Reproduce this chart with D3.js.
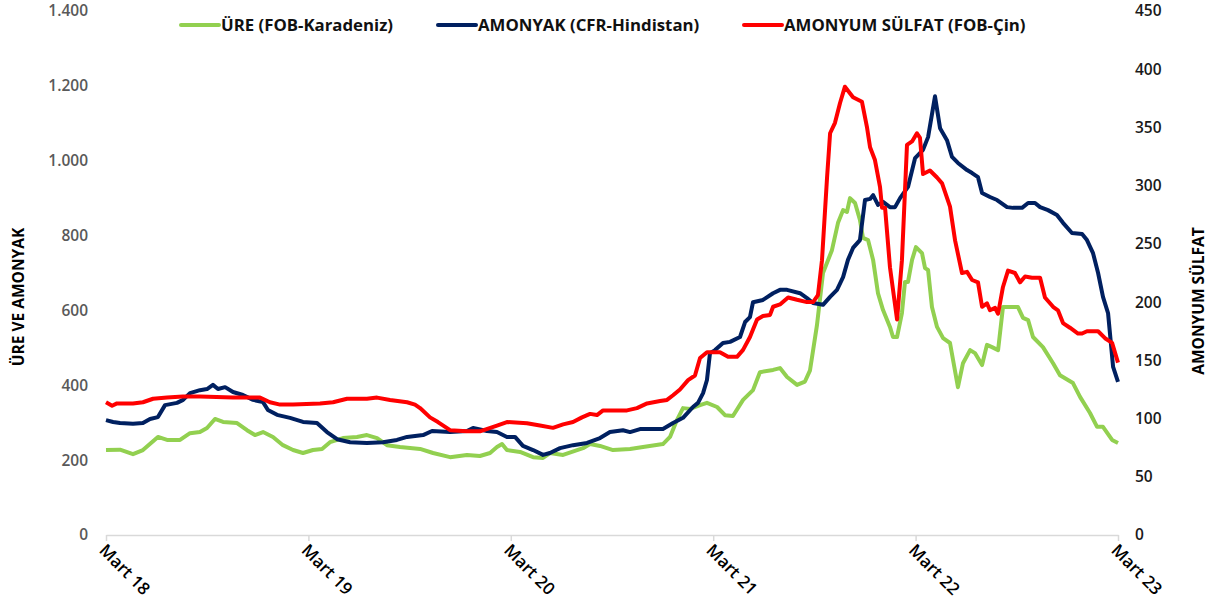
<!DOCTYPE html>
<html lang='tr'>
<head>
<meta charset='utf-8'>
<title>Gübre Fiyatları</title>
<script src='https://cdn.jsdelivr.net/npm/d3@7'></script>
<style>
  body { margin: 0; background: #fff; }
  svg text { font-family: 'Open Sans', 'Noto Sans', sans-serif; }
  .ytick text { font-size: 15.5px; font-weight: 600; }
</style>
</head>
<body>
<script>
// x = months since March 2018
var yearTicks = [0, 12, 24, 36, 48, 60];
var yearLabels = ['Mart 18', 'Mart 19', 'Mart 20', 'Mart 21', 'Mart 22', 'Mart 23'];
var leftTicks = [0, 200, 400, 600, 800, 1000, 1200, 1400];
var rightTicks = [0, 50, 100, 150, 200, 250, 300, 350, 400, 450];
var seriesNames = ['ÜRE (FOB-Karadeniz)', 'AMONYAK (CFR-Hindistan)', 'AMONYUM SÜLFAT (FOB-Çin)'];

var ureMonths = [0, 0.83, 1.6, 2.19, 3.08, 3.62, 4.39, 4.98, 5.57, 5.99, 6.46, 6.94, 7.77, 8.36, 8.83, 9.31, 9.9, 10.49, 11.09, 11.68,
  12.27, 12.81, 13.28, 14.05, 14.88, 15.47, 16.07, 16.66, 17.43, 18.62, 19.39, 20.4, 21.4, 22.17, 22.77, 23.18, 23.48, 23.77, 24.55, 25.32,
  25.91, 26.32, 27.1, 28.28, 28.7, 29.29, 30.06, 31.07, 31.84, 33.02, 33.44, 33.85, 34.21, 34.63, 35.22, 35.63, 36.23, 36.7, 37.17, 37.77,
  38.36, 38.77, 39.55, 39.96, 40.38, 40.97, 41.44, 41.74, 42.15, 42.51, 43.04, 43.4, 43.7, 43.93, 44.11, 44.41, 44.7, 44.88, 45.18, 45.48,
  45.77, 46.07, 46.48, 46.66, 46.9, 47.19, 47.37, 47.55, 47.79, 48.02, 48.38, 48.56, 48.74, 48.97, 49.27, 49.63, 50.04, 50.51, 50.81, 51.23,
  51.52, 51.94, 52.23, 52.53, 52.89, 53.18, 53.78, 54.07, 54.37, 54.67, 54.96, 55.55, 56.15, 56.56, 57.33, 57.75, 58.34, 58.76, 59.11, 59.65, 60];
var ureValues = [227, 228, 216, 227, 262, 254, 254, 272, 275, 286, 310, 302, 299, 280, 267, 275, 262, 240, 227, 219,
  227, 230, 248, 259, 262, 267, 259, 240, 235, 230, 219, 208, 214, 211, 219, 235, 243, 227, 222, 208,
  206, 219, 214, 232, 243, 238, 227, 230, 235, 243, 262, 307, 339, 337, 347, 353, 342, 320, 318, 361,
  387, 435, 441, 446, 422, 401, 410, 440, 560, 700, 761, 834, 868, 863, 900, 887, 842, 794, 788, 735,
  646, 601, 556, 529, 529, 593, 676, 676, 735, 769, 753, 713, 708, 609, 556, 526, 513, 395, 459, 494,
  486, 454, 508, 502, 494, 609, 609, 609, 580, 574, 529, 502, 459, 427, 406, 369, 326, 289, 289, 254, 246];

var amonyakMonths = [0, 0.42, 0.83, 1.6, 2.19, 2.61, 3.08, 3.5, 4.21, 4.57, 4.98, 5.57, 5.99, 6.34, 6.64, 7.06, 7.53, 8.12, 8.72, 9.31,
  9.6, 10.14, 10.91, 11.68, 12.51, 13.1, 13.7, 14.47, 15.47, 16.42, 17.25, 17.85, 18.8, 19.33, 20.4, 21.4, 21.76, 22.59, 23.18, 23.77,
  24.25, 24.72, 25.32, 25.91, 26.32, 26.92, 27.69, 28.52, 29.29, 29.88, 30.65, 31.07, 31.66, 32.43, 33.02, 33.62, 34.21, 34.8, 35.1, 35.4,
  35.63, 35.81, 36.11, 36.58, 37.0, 37.59, 37.89, 38.18, 38.36, 38.95, 39.55, 39.96, 40.38, 41.15, 41.56, 41.92, 42.51, 42.93, 43.34, 43.7,
  43.99, 44.29, 44.7, 45.0, 45.3, 45.48, 45.77, 46.07, 46.48, 46.78, 47.08, 47.55, 47.97, 48.44, 48.74, 49.15, 49.45, 49.86, 50.16, 50.51,
  51.05, 51.35, 51.7, 51.94, 52.41, 52.83, 53.42, 53.78, 54.31, 54.67, 55.08, 55.38, 55.85, 56.38, 56.74, 57.27, 57.87, 58.16, 58.52, 58.82,
  59.11, 59.41, 59.71, 60];
var amonyakValues = [307, 302, 299, 297, 299, 310, 315, 347, 353, 361, 379, 387, 390, 401, 390, 395, 382, 374, 361, 355,
  334, 321, 313, 302, 299, 275, 256, 248, 246, 248, 254, 262, 267, 278, 275, 278, 286, 278, 275, 262,
  262, 238, 227, 214, 219, 232, 240, 246, 259, 275, 280, 275, 283, 283, 283, 299, 313, 342, 353, 379,
  414, 486, 494, 513, 516, 529, 569, 582, 622, 628, 646, 655, 655, 646, 633, 620, 615, 636, 655, 689,
  735, 767, 788, 895, 898, 908, 882, 890, 876, 876, 900, 930, 1007, 1029, 1063, 1172, 1087, 1055, 1010, 994,
  975, 967, 956, 914, 903, 895, 876, 874, 874, 887, 887, 876, 868, 855, 834, 807, 804, 788, 753, 700,
  636, 593, 449, 409];

var sulfatMonths = [0, 0.36, 0.65, 1.6, 2.19, 2.79, 3.62, 4.57, 5.57, 7.53, 9.13, 9.72, 10.32, 11.09, 12.69, 13.46, 14.29, 15.47, 16.07, 16.84,
  17.85, 18.32, 18.62, 19.21, 19.68, 20.4, 21.4, 22.17, 23.18, 23.77, 24.96, 25.73, 26.5, 27.1, 27.69, 28.22, 28.7, 29.11, 29.47, 30.06,
  30.89, 31.48, 32.08, 32.85, 33.26, 33.62, 34.03, 34.51, 34.92, 35.22, 35.63, 36.4, 36.88, 37.41, 37.77, 38.18, 38.6, 38.95, 39.37, 39.55,
  39.96, 40.44, 40.97, 41.56, 41.92, 42.21, 42.45, 42.75, 42.93, 43.22, 43.52, 43.81, 44.29, 44.82, 45.12, 45.3, 45.59, 45.89, 46.01, 46.19,
  46.48, 46.9, 47.19, 47.49, 47.79, 48.08, 48.26, 48.44, 48.85, 49.27, 49.57, 50.04, 50.34, 50.75, 51.05, 51.35, 51.7, 51.94, 52.23, 52.41,
  52.71, 52.89, 53.18, 53.48, 53.89, 54.19, 54.49, 54.9, 55.38, 55.67, 56.15, 56.44, 56.74, 57.15, 57.63, 57.87, 58.16, 58.82, 59.23, 59.65, 60];
var sulfatValues = [114, 111, 113, 113, 114, 117, 118, 119, 119, 118, 118, 114, 112, 112, 113, 114, 117, 117, 118, 116,
  114, 112, 109, 101, 97, 90, 89, 89, 94, 97, 96, 94, 92, 95, 97, 101, 104, 103, 107, 107,
  107, 109, 113, 115, 116, 120, 125, 133, 137, 152, 157, 157, 153, 153, 159, 170, 185, 188, 189, 196,
  198, 204, 202, 200, 200, 206, 236, 307, 345, 354, 371, 385, 376, 372, 350, 333, 322, 299, 281, 281,
  230, 185, 236, 335, 338, 345, 341, 310, 313, 307, 302, 282, 253, 225, 226, 219, 217, 196, 199, 193,
  195, 190, 213, 227, 225, 217, 222, 221, 221, 204, 196, 193, 182, 178, 173, 173, 175, 175, 169, 165, 148];

var colors = ['#92D050', '#002060', '#FF0000'];

var w = 1221, h = 613;
var plotLeft = 106, plotRight = 1118, plotTop = 11, plotBottom = 535;

var svg = d3.select('body').append('svg')
  .attr('width', w)
  .attr('height', h);

var xScale = d3.scaleLinear().domain([0, 60]).range([plotLeft, plotRight]);
var yLeft = d3.scaleLinear().domain([0, 1400]).range([plotBottom, plotTop]);
var yRight = d3.scaleLinear().domain([0, 450]).range([plotBottom, plotTop]);

var fmtTR = function(d) { return d3.format(',')(d).replace(/,/g, '.'); };

// left axis (no line)
var gl = svg.append('g')
  .attr('class', 'ytick')
  .attr('transform', 'translate(' + plotLeft + ',0)')
  .call(d3.axisLeft(yLeft).tickValues(leftTicks).tickFormat(fmtTR).tickSize(0).tickPadding(18));
gl.select('.domain').remove();
gl.selectAll('text').attr('fill', '#595959');

// right axis
var gr = svg.append('g')
  .attr('class', 'ytick')
  .attr('transform', 'translate(' + plotRight + ',0)')
  .call(d3.axisRight(yRight).tickValues(rightTicks).tickSize(0).tickPadding(17));
gr.select('.domain').remove();
gr.selectAll('text').attr('fill', '#1a1a1a');

// x axis
var gx = svg.append('g')
  .attr('transform', 'translate(0,' + plotBottom + ')')
  .call(d3.axisBottom(xScale).tickValues(yearTicks)
    .tickFormat(function(d, i) { return yearLabels[i]; })
    .tickSize(6).tickSizeOuter(0));
gx.select('.domain').attr('stroke', '#d9d9d9').attr('stroke-width', 1.5);
gx.selectAll('line').attr('stroke', '#d9d9d9').attr('stroke-width', 1.5);
gx.selectAll('text')
  .attr('font-size', 17)
  .attr('font-weight', 600)
  .attr('fill', '#000')
  .attr('text-anchor', 'start')
  .attr('dy', 0)
  .attr('transform', 'translate(-2,10) rotate(45)');

// axis titles
svg.append('text')
  .attr('transform', 'translate(24,297) rotate(-90)')
  .attr('text-anchor', 'middle')
  .attr('font-size', 15.5)
  .attr('font-weight', 700)
  .attr('fill', '#000')
  .text('ÜRE VE AMONYAK');

svg.append('text')
  .attr('transform', 'translate(1204,301) rotate(-90)')
  .attr('text-anchor', 'middle')
  .attr('font-size', 15.5)
  .attr('font-weight', 700)
  .attr('fill', '#000')
  .text('AMONYUM SÜLFAT');

// lines
function pairs(xs, vs) {
  return xs.map(function(x, i) { return [x, vs[i]]; });
}
var lineLeft = d3.line().x(function(d) { return xScale(d[0]); }).y(function(d) { return yLeft(d[1]); });
var lineRight = d3.line().x(function(d) { return xScale(d[0]); }).y(function(d) { return yRight(d[1]); });

svg.append('path')
  .datum(pairs(ureMonths, ureValues))
  .attr('d', lineLeft)
  .attr('fill', 'none').attr('stroke', colors[0]).attr('stroke-width', 4).attr('stroke-linejoin', 'round');

svg.append('path')
  .datum(pairs(amonyakMonths, amonyakValues))
  .attr('d', lineLeft)
  .attr('fill', 'none').attr('stroke', colors[1]).attr('stroke-width', 4).attr('stroke-linejoin', 'round');

svg.append('path')
  .datum(pairs(sulfatMonths, sulfatValues))
  .attr('d', lineRight)
  .attr('fill', 'none').attr('stroke', colors[2]).attr('stroke-width', 4).attr('stroke-linejoin', 'round');

// legend
var legendX = [181, 438, 744];
var lg = svg.append('g').selectAll('g')
  .data(seriesNames)
  .enter().append('g')
  .attr('transform', function(d, i) { return 'translate(' + legendX[i] + ',25)'; });
lg.append('line')
  .attr('x1', 0).attr('x2', 38).attr('y1', 0).attr('y2', 0)
  .attr('stroke', function(d, i) { return colors[i]; })
  .attr('stroke-width', 4).attr('stroke-linecap', 'round');
lg.append('text')
  .attr('x', 40).attr('y', 6)
  .attr('font-size', 16.8).attr('font-weight', 700).attr('fill', '#111')
  .text(function(d) { return d; });
</script>
</body>
</html>
